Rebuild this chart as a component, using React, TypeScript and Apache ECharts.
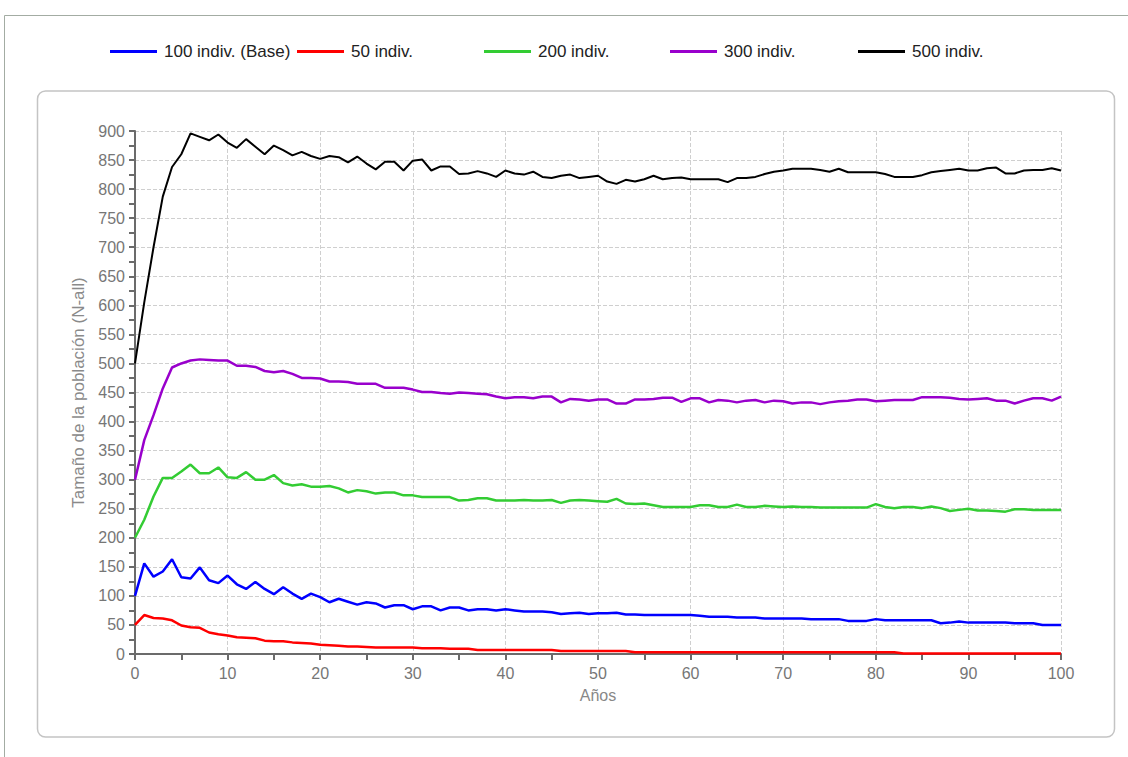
import React, { useEffect, useRef } from "react";
import * as echarts from "echarts";

const years: number[] = Array.from({ length: 101 }, (_, i) => i);

const seriesNames = ["100 indiv. (Base)", "50 indiv.", "200 indiv.", "300 indiv.", "500 indiv."];

const base100: number[] = [
  100, 156, 133, 142, 163, 132, 130, 149, 127, 122, 135, 120, 112, 124, 112, 103, 115, 104, 95, 104,
  98, 89, 95, 90, 85, 89, 87, 80, 84, 84, 77, 82, 82, 75, 80, 80, 75, 77, 77, 75,
  77, 75, 73, 73, 73, 72, 69, 70, 71, 69, 70, 70, 71, 68, 68, 67, 67, 67, 67, 67,
  67, 66, 64, 64, 64, 63, 63, 63, 61, 61, 61, 61, 61, 60, 60, 60, 60, 57, 57, 57,
  60, 58, 58, 58, 58, 58, 58, 53, 54, 56, 54, 54, 54, 54, 54, 53, 53, 53, 50, 50, 50,
];

const ind50: number[] = [
  50, 67, 62, 61, 58, 49, 46, 45, 37, 34, 32, 29, 28, 27, 23, 22, 22, 20, 19, 18,
  16, 15, 14, 13, 13, 12, 11, 11, 11, 11, 11, 10, 10, 10, 9, 9, 9, 7, 7, 7,
  7, 7, 7, 7, 7, 7, 5, 5, 5, 5, 5, 5, 5, 5, 3, 3, 3, 3, 3, 3,
  3, 3, 3, 3, 3, 3, 3, 3, 3, 3, 3, 3, 3, 3, 3, 3, 3, 3, 3, 3,
  3, 3, 3, 1, 1, 1, 1, 1, 1, 1, 1, 1, 1, 1, 1, 1, 1, 1, 1, 1, 1,
];

const ind200: number[] = [
  200, 231, 271, 303, 303, 314, 326, 311, 311, 321, 304, 303, 313, 300, 300, 308, 294, 290, 292, 288,
  288, 289, 285, 278, 282, 280, 276, 278, 278, 273, 273, 270, 270, 270, 270, 264, 265, 268, 268, 264,
  264, 264, 265, 264, 264, 265, 260, 264, 265, 264, 263, 262, 267, 259, 258, 259, 256, 253, 253, 253,
  253, 256, 256, 253, 253, 257, 253, 253, 255, 254, 253, 254, 253, 253, 252, 252, 252, 252, 252, 252,
  258, 253, 251, 253, 253, 251, 254, 251, 246, 248, 250, 247, 247, 246, 245, 249, 249, 248, 248, 248, 248,
];

const ind300: number[] = [
  300, 368, 411, 457, 493, 500, 505, 507, 506, 505, 505, 496, 496, 494, 487, 485, 487, 482, 475, 475,
  474, 469, 469, 468, 465, 465, 465, 458, 458, 458, 455, 451, 451, 449, 448, 450, 449, 448, 447, 443,
  440, 442, 442, 440, 443, 443, 433, 439, 438, 436, 438, 438, 431, 431, 438, 438, 439, 441, 441, 434,
  440, 440, 433, 437, 436, 433, 436, 437, 433, 436, 435, 431, 433, 433, 430, 433, 435, 436, 438, 438,
  435, 436, 437, 437, 437, 442, 442, 442, 441, 439, 438, 439, 440, 436, 436, 431, 436, 440, 440, 436, 443,
];

const ind500: number[] = [
  500, 605, 700, 787, 838, 860, 896, 890, 884, 894, 880, 871, 886, 873, 860, 875, 867, 858, 864, 857,
  852, 857, 855, 846, 856, 844, 834, 847, 847, 832, 849, 851, 832, 839, 839, 826, 827, 831, 827, 821,
  832, 827, 825, 830, 821, 819, 823, 825, 819, 821, 823, 813, 809, 816, 813, 817, 823, 817, 819, 820,
  817, 817, 817, 817, 812, 819, 819, 821, 826, 830, 832, 835, 835, 835, 833, 830, 835, 829, 829, 829,
  829, 826, 821, 821, 821, 824, 829, 831, 833, 835, 832, 832, 836, 837, 827, 827, 832, 833, 833, 836, 832,
];

const seriesValues: number[][] = [base100, ind50, ind200, ind300, ind500];
const seriesColors = ["#0000ff", "#ff0000", "#33cc33", "#9900cc", "#000000"];
const legendLefts = [110, 297, 484, 670, 858];

const FONT = "'Liberation Sans', Arial, sans-serif";

export default function App() {
  const ref = useRef<HTMLDivElement>(null);

  useEffect(() => {
    if (!ref.current) return;
    const chart = echarts.init(ref.current, undefined, { renderer: "svg" });

    const axisLineColor = "#6b6b6b";
    const labelColor = "#767676";

    const option: any = {
      animation: false,
      backgroundColor: "#ffffff",
      textStyle: { fontFamily: FONT },
      graphic: [
        {
          type: "rect",
          shape: { x: 4.5, y: 15.5, width: 1200, height: 800 },
          style: { fill: "none", stroke: "#a3aca3", lineWidth: 1 },
          silent: true,
        },
        {
          type: "rect",
          shape: { x: 37.5, y: 91, width: 1077, height: 646, r: 8 },
          style: { fill: "none", stroke: "#c4c4c4", lineWidth: 1.5 },
          silent: true,
        },
      ],
      legend: seriesNames.map((n, i) => ({
        data: [n],
        left: legendLefts[i],
        top: 43,
        icon: "rect",
        itemWidth: 47,
        itemHeight: 3,
        itemGap: 7,
        padding: 0,
        textStyle: { fontSize: 17, color: "#222", fontFamily: FONT, padding: [0, 0, 0, 2] },
        selectedMode: false,
      })),
      grid: { left: 135, right: 67, top: 131, bottom: 103, containLabel: false },
      xAxis: {
        type: "value",
        min: 0,
        max: 100,
        interval: 10,
        name: "Años",
        nameLocation: "middle",
        nameGap: 33,
        nameTextStyle: { color: "#888888", fontSize: 16, fontFamily: FONT },
        axisLine: { show: true, onZero: false, lineStyle: { color: axisLineColor, width: 2 } },
        axisTick: { show: true, length: 6, lineStyle: { color: axisLineColor, width: 2 } },
        minorTick: { show: true, splitNumber: 2, length: 6, lineStyle: { color: axisLineColor, width: 2 } },
        axisLabel: { color: labelColor, fontSize: 16, margin: 11, fontFamily: FONT },
        splitLine: { show: true, lineStyle: { color: "#cfcfcf", type: "dashed", width: 1 } },
      },
      yAxis: {
        type: "value",
        min: 0,
        max: 900,
        interval: 50,
        name: "Tamaño de la población (N-all)",
        nameLocation: "middle",
        nameGap: 47,
        nameTextStyle: { color: "#8a8a8a", fontSize: 17, fontFamily: FONT },
        axisLine: { show: true, lineStyle: { color: axisLineColor, width: 2 } },
        axisTick: { show: true, length: 6, lineStyle: { color: axisLineColor, width: 2 } },
        minorTick: { show: true, splitNumber: 2, length: 6, lineStyle: { color: axisLineColor, width: 2 } },
        axisLabel: { color: labelColor, fontSize: 16, margin: 10, fontFamily: FONT },
        splitLine: { show: true, lineStyle: { color: "#cfcfcf", type: "dashed", width: 1 } },
      },
      series: seriesNames.map((n, i) => ({
        name: n,
        type: "line",
        data: years.map((y, j) => [y, seriesValues[i][j]]),
        symbol: "none",
        color: seriesColors[i],
        lineStyle: { color: seriesColors[i], width: i === 4 ? 2 : 2.5 },
        z: 2 + (4 - i),
      })),
    };

    chart.setOption(option);
    return () => chart.dispose();
  }, []);

  return (
    <div
      ref={ref}
      style={{ position: "fixed", left: 0, top: 0, width: 1128, height: 757, background: "#fff" }}
    />
  );
}
